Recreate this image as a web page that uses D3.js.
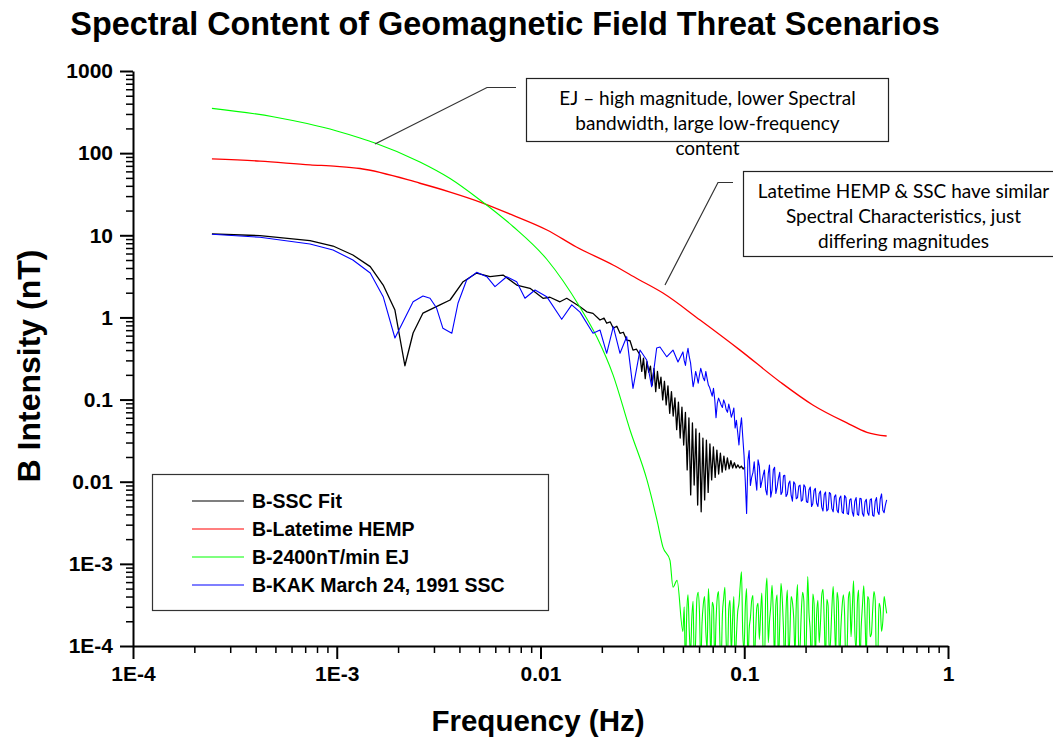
<!DOCTYPE html>
<html>
<head>
<meta charset="utf-8">
<script src="https://cdn.jsdelivr.net/npm/d3@7"></script>
<style>
  body { margin: 0; background: #ffffff; }
  svg { display: block; }
</style>
</head>
<body>
<svg id="chart" width="1053" height="740"></svg>
<script>
// ---------- axis ticks ----------
const xTickValues = [1e-4, 1e-3, 1e-2, 1e-1, 1];
const xTickLabels = ["1E-4", "1E-3", "0.01", "0.1", "1"];
const yTickValues = [1e-4, 1e-3, 1e-2, 1e-1, 1, 10, 100, 1000];
const yTickLabels = ["1E-4", "1E-3", "0.01", "0.1", "1", "10", "100", "1000"];

// ---------- series ----------
const seriesNames = ["B-SSC Fit", "B-Latetime HEMP", "B-2400nT/min EJ", "B-KAK March 24, 1991 SSC"];
const seriesColors = ["#000000", "#ff0000", "#00ff00", "#0000ff"];

// late-time HEMP spectrum (Hz, nT)
const hempFreq = [2.44e-4, 4.2e-4, 7.4e-4, 1.0e-3, 1.3e-3, 2.56e-3, 3.6e-3, 5.05e-3, 7.3e-3, 0.01076,
                  0.015, 0.0227, 0.030, 0.0399, 0.0607, 0.0953, 0.150, 0.217, 0.319, 0.40, 0.50];
const hempB = [85, 80, 72, 69, 65, 43, 33.6, 25.4, 17.6, 11.6,
               7.2, 4.35, 2.94, 1.98, 0.93, 0.40, 0.164, 0.086, 0.052, 0.040, 0.036];

// electrojet spectrum, smooth roll-off part
const ejFreqLow = [2.44e-4, 4.87e-4, 7.15e-4, 1.0e-3, 1.3e-3, 1.54e-3, 2.56e-3, 3.6e-3, 5.05e-3, 7.33e-3,
                   0.01076, 0.0156, 0.0189, 0.0227, 0.0275, 0.0333, 0.0373, 0.0399, 0.0432, 0.0447, 0.0468];
const ejBLow = [351, 278, 229, 186, 153, 133, 78, 49.1, 26.9, 12.8,
                5.07, 1.34, 0.578, 0.2, 0.0426, 0.0105, 0.0034, 0.0016, 0.0011, 5.2e-4, 6.3e-4];

// high-frequency sample grid (0.05 - 0.5 Hz) and the in-between samples
const hfFreq = [0.05000, 0.05146, 0.05296, 0.05451, 0.05610, 0.05774, 0.05942, 0.06116, 0.06295, 0.06478,
                0.06668, 0.06862, 0.07063, 0.07269, 0.07481, 0.07700, 0.07924, 0.08156, 0.08394, 0.08639,
                0.08891, 0.09151, 0.09418, 0.09693, 0.09976, 0.1027, 0.1057, 0.1088, 0.1119, 0.1152,
                0.1186, 0.1220, 0.1256, 0.1293, 0.1330, 0.1369, 0.1409, 0.1450, 0.1493, 0.1536,
                0.1581, 0.1628, 0.1675, 0.1724, 0.1774, 0.1826, 0.1879, 0.1934, 0.1991, 0.2049,
                0.2109, 0.2170, 0.2233, 0.2299, 0.2366, 0.2435, 0.2506, 0.2579, 0.2654, 0.2732,
                0.2812, 0.2894, 0.2978, 0.3065, 0.3155, 0.3247, 0.3342, 0.3439, 0.3540, 0.3643,
                0.3749, 0.3859, 0.3972, 0.4088, 0.4207, 0.4330, 0.4456, 0.4586, 0.4720, 0.4858, 0.5000];
const hfFreqMid = [0.05072, 0.05221, 0.05373, 0.05530, 0.05691, 0.05858, 0.06028, 0.06205, 0.06386, 0.06572,
                   0.06765, 0.06961, 0.07165, 0.07374, 0.07589, 0.07812, 0.08039, 0.08274, 0.08516, 0.08764,
                   0.09020, 0.09284, 0.09554, 0.09833, 0.1012, 0.1042, 0.1072, 0.1104, 0.1135, 0.1169,
                   0.1203, 0.1238, 0.1274, 0.1312, 0.1349, 0.1389, 0.1429, 0.1471, 0.1515, 0.1558,
                   0.1604, 0.1652, 0.1699, 0.1749, 0.1800, 0.1852, 0.1906, 0.1962, 0.2020, 0.2079,
                   0.2140, 0.2201, 0.2265, 0.2332, 0.2400, 0.2470, 0.2542, 0.2616, 0.2692, 0.2772,
                   0.2853, 0.2936, 0.3021, 0.3109, 0.3201, 0.3294, 0.3390, 0.3489, 0.3591, 0.3696,
                   0.3803, 0.3915, 0.4030, 0.4147, 0.4268, 0.4393, 0.4521, 0.4652, 0.4788, 0.4928];

// electrojet noise floor
const ejBHigh = [1.5e-4, 5e-5, 4.2e-4, 8e-5, 3.5e-4, 1.2e-4, 4.5e-4, 6e-5, 3.2e-4, 1.5e-4,
                 5.0e-4, 7e-5, 3.0e-4, 2.0e-4, 4.6e-4, 6e-5, 3.8e-4, 1.1e-4, 2.8e-4, 8e-5,
                 4.0e-4, 1.3e-4, 3.3e-4, 8.0e-4, 9e-5, 5.0e-4, 1.6e-4, 3.6e-4, 6e-5, 2.9e-4,
                 1.2e-4, 4.4e-4, 5e-5, 6.7e-4, 2.0e-4, 5.5e-4, 7e-5, 4.2e-4, 1.8e-4, 3.8e-4,
                 6e-5, 4.8e-4, 1.4e-4, 3.4e-4, 8e-5, 5.6e-4, 1.0e-4, 4.5e-4, 5e-5, 7.0e-4,
                 1.5e-4, 4.3e-4, 7e-5, 3.6e-4, 1.9e-4, 4.9e-4, 6e-5, 3.1e-4, 1.2e-4, 5.3e-4,
                 8e-5, 3.5e-4, 1.6e-4, 4.2e-4, 5e-5, 3.9e-4, 1.3e-4, 6.2e-4, 9e-5, 4.8e-4,
                 1.7e-4, 5.4e-4, 7e-5, 3.7e-4, 1.4e-4, 4.6e-4, 6e-5, 3.3e-4, 1.5e-4, 4.0e-4, 2.5e-4];
const ejBMid = [3.0e-4, 2.5e-4, 1.5e-4, 2.2e-4, 5e-5, 3.8e-4, 2.6e-4, 1.9e-4, 4.0e-4, 9e-5,
                2.3e-4, 3.4e-4, 6e-5, 3.9e-4, 1.2e-4, 2.4e-4, 5.2e-4, 7e-5, 3.6e-4, 2.1e-4,
                6e-5, 2.6e-4, 5.5e-4, 1.4e-4, 3.0e-4, 6e-5, 2.2e-4, 4.1e-4, 1.3e-4, 3.3e-4,
                2.5e-4, 8e-5, 4.0e-4, 1.1e-4, 3.0e-4, 2.4e-4, 3.2e-4, 6e-5, 5.8e-4, 1.6e-4,
                2.7e-4, 7e-5, 4.0e-4, 2.2e-4, 3.1e-4, 8e-5, 2.6e-4, 3.5e-4, 1.4e-4, 2.5e-4,
                5e-5, 3.3e-4, 2.4e-4, 1.1e-4, 4.1e-4, 2.0e-4, 3.7e-4, 8e-5, 2.9e-4, 2.1e-4,
                4.5e-4, 6e-5, 3.0e-4, 2.4e-4, 1.0e-4, 4.6e-4, 2.8e-4, 1.5e-4, 3.4e-4, 6e-5,
                3.1e-4, 2.2e-4, 4.0e-4, 1.3e-4, 2.7e-4, 3.6e-4, 7e-5, 2.9e-4, 2.0e-4, 3.2e-4];

// SSC fit spectrum
const sscFreq = [2.44e-4, 4.20e-4, 7.39e-4, 9.59e-4, 1.20e-3, 1.46e-3, 1.69e-3, 1.93e-3, 2.16e-3, 2.37e-3,
                 2.65e-3, 3.21e-3, 3.60e-3, 4.17e-3, 4.86e-3, 5.65e-3, 6.55e-3, 7.64e-3, 8.88e-3, 0.01029,
                 0.01113, 0.01246, 0.01345, 0.01563, 0.01686, 0.01810, 0.01959, 0.0205, 0.02113, 0.0220,
                 0.02277, 0.0237, 0.02456, 0.0255, 0.02649, 0.0275, 0.02844, 0.0296,
                 0.03078, 0.03140, 0.03202, 0.03266, 0.03331, 0.03398, 0.03465, 0.03534, 0.03605, 0.03677,
                 0.03750, 0.03825, 0.03901, 0.03979, 0.04058, 0.04139, 0.04222, 0.04306, 0.04392, 0.04480,
                 0.04569, 0.04660, 0.04753, 0.04848, 0.04945, 0.05044, 0.05144, 0.05247, 0.05351, 0.05458,
                 0.05567, 0.05678, 0.05791, 0.05907, 0.06025, 0.06146, 0.06267, 0.06392, 0.06520, 0.06650,
                 0.06783, 0.06919, 0.07056, 0.07197, 0.07340, 0.07487, 0.07636, 0.07789, 0.07944, 0.08103,
                 0.08264, 0.08429, 0.08597, 0.08769, 0.08944, 0.09123, 0.09304, 0.09490, 0.09679, 0.09873, 0.1007];
const sscB = [10.4, 9.9, 8.6, 7.4, 5.75, 4.15, 2.48, 1.23, 0.258, 0.646,
              1.13, 1.42, 1.63, 2.72, 3.47, 3.13, 3.28, 2.48, 2.26, 1.71,
              1.76, 1.55, 1.71, 1.35, 1.17, 1.12, 0.93, 0.98, 0.85, 0.88,
              0.74, 0.78, 0.64, 0.66, 0.53, 0.52, 0.40, 0.41,
              0.349, 0.22, 0.32, 0.18, 0.29, 0.215, 0.255, 0.150, 0.24, 0.125,
              0.22, 0.137, 0.188, 0.099, 0.167, 0.086, 0.147, 0.068, 0.125, 0.063,
              0.105, 0.043, 0.093, 0.034, 0.081, 0.028, 0.070, 0.0139, 0.060, 0.0069,
              0.052, 0.0091, 0.044, 0.0052, 0.039, 0.0043, 0.034, 0.0060, 0.032, 0.0074,
              0.0288, 0.0105, 0.0265, 0.0113, 0.0243, 0.0124, 0.0223, 0.0131, 0.0205, 0.0139,
              0.0195, 0.0143, 0.0180, 0.0147, 0.0170, 0.0147, 0.0160, 0.0147, 0.0155, 0.0143, 0.0151];

// KAK 24 March 1991 SSC spectrum, low-frequency part
const kakFreqLow = [2.44e-4, 4.20e-4, 7.39e-4, 9.59e-4, 1.20e-3, 1.46e-3, 1.69e-3, 1.93e-3, 2.37e-3, 2.65e-3,
                    2.87e-3, 3.09e-3, 3.32e-3, 3.67e-3, 3.94e-3, 4.34e-3, 4.86e-3, 5.45e-3, 5.98e-3, 6.82e-3,
                    7.64e-3, 8.39e-3, 9.40e-3, 0.01073, 0.01271, 0.01423, 0.01563, 0.01810, 0.01959, 0.02113,
                    0.02277, 0.02456, 0.02649, 0.02844, 0.03078, 0.03320, 0.03513, 0.03717, 0.03859, 0.04163,
                    0.04470, 0.04729];
const kakBLow = [10.3, 9.45, 7.83, 6.62, 5.0, 3.47, 1.79, 0.562, 1.55, 1.82,
                 1.71, 1.30, 0.737, 0.641, 1.50, 2.86, 3.54, 3.13, 2.37, 3.13,
                 2.72, 1.71, 2.16, 1.79, 0.949, 1.42, 1.16, 0.641, 0.703, 0.366,
                 0.771, 0.366, 0.583, 0.137, 0.401, 0.303, 0.143, 0.424, 0.436, 0.332,
                 0.401, 0.287];
// KAK spectrum, high-frequency part
const kakBHigh = [0.38, 0.26, 0.42, 0.28, 0.143, 0.22, 0.158, 0.24, 0.183, 0.22,
                  0.150, 0.124, 0.137, 0.060, 0.104, 0.086, 0.099, 0.075, 0.088, 0.061,
                  0.079, 0.056, 0.028, 0.060, 0.021, 0.0041, 0.024, 0.0114, 0.0175, 0.0079,
                  0.0155, 0.0100, 0.0139, 0.0069, 0.0160, 0.0079, 0.0150, 0.0086, 0.0130, 0.0075,
                  0.0120, 0.0071, 0.0102, 0.0058, 0.0094, 0.0064, 0.0091, 0.0060, 0.0086, 0.0056,
                  0.0086, 0.0054, 0.0083, 0.0050, 0.0077, 0.0044, 0.0075, 0.0046, 0.0071, 0.0043,
                  0.0069, 0.0042, 0.0067, 0.0041, 0.0064, 0.0040, 0.0062, 0.0038, 0.0064, 0.0039,
                  0.0062, 0.0038, 0.0061, 0.0039, 0.0062, 0.0038, 0.0064, 0.0040, 0.0071, 0.0042, 0.0060];
const kakBMid = [0.30, 0.35, 0.33, 0.20, 0.17, 0.19, 0.20, 0.21, 0.17, 0.18,
                 0.14, 0.11, 0.10, 0.09, 0.095, 0.08, 0.09, 0.07, 0.075, 0.068,
                 0.045, 0.040, 0.045, 0.035, 0.010, 0.018, 0.0090, 0.0130, 0.0110, 0.0185,
                 0.0085, 0.0120, 0.0080, 0.0125, 0.0065, 0.0140, 0.0072, 0.0110, 0.0070, 0.0118,
                 0.0066, 0.0095, 0.0068, 0.0100, 0.0062, 0.0088, 0.0058, 0.0092, 0.0057, 0.0080,
                 0.0050, 0.0078, 0.0055, 0.0072, 0.0049, 0.0070, 0.0044, 0.0074, 0.0047, 0.0066,
                 0.0045, 0.0063, 0.0043, 0.0068, 0.0041, 0.0060, 0.0043, 0.0058, 0.0040, 0.0063,
                 0.0041, 0.0057, 0.0042, 0.0060, 0.0039, 0.0058, 0.0043, 0.0062, 0.0045, 0.0052];

// ---------- assemble series ----------
const zip = (fs, bs) => fs.map((f, i) => ({ f: f, b: bs[i] }));
const byFreq = arr => arr.sort((a, b) => a.f - b.f);
const series = [
  { name: seriesNames[0], color: seriesColors[0], width: 1.3, curve: d3.curveLinear, pts: zip(sscFreq, sscB) },
  { name: seriesNames[1], color: seriesColors[1], width: 1.3, curve: d3.curveMonotoneX, pts: zip(hempFreq, hempB) },
  { name: seriesNames[2], color: seriesColors[2], width: 1.1, curve: d3.curveMonotoneX,
    pts: zip(ejFreqLow, ejBLow).concat(byFreq(zip(hfFreq, ejBHigh).concat(zip(hfFreqMid, ejBMid)))) },
  { name: seriesNames[3], color: seriesColors[3], width: 1.1, curve: d3.curveLinear,
    pts: zip(kakFreqLow, kakBLow).concat(byFreq(zip(hfFreq, kakBHigh).concat(zip(hfFreqMid, kakBMid)))) }
];

// ---------- layout ----------
const svg = d3.select("#chart");
const plot = { left: 133, right: 948, top: 71, bottom: 646 };
const x = d3.scaleLog().domain([1e-4, 1]).range([plot.left, plot.right]);
const y = d3.scaleLog().domain([1e-4, 1000]).range([plot.bottom, plot.top]);
const fontBold = "'Liberation Sans', Arial, Helvetica, sans-serif";

svg.append("rect").attr("width", 1053).attr("height", 740).attr("fill", "#ffffff");

svg.append("defs").append("clipPath").attr("id", "plotClip")
  .append("rect")
  .attr("x", plot.left).attr("y", plot.top)
  .attr("width", plot.right - plot.left).attr("height", plot.bottom - plot.top);

// ---------- curves ----------
const curvesG = svg.append("g").attr("clip-path", "url(#plotClip)");
series.forEach(s => {
  const line = d3.line().x(d => x(d.f)).y(d => y(d.b)).curve(s.curve);
  curvesG.append("path")
    .datum(s.pts)
    .attr("d", line)
    .attr("fill", "none")
    .attr("stroke", s.color)
    .attr("stroke-width", s.width)
    .attr("stroke-linejoin", "round");
});

// ---------- axes ----------
const isDecade = v => Math.abs(Math.log10(v) - Math.round(Math.log10(v))) < 1e-9;
const xMinor = x.ticks().filter(v => !isDecade(v));
const yMinor = y.ticks().filter(v => !isDecade(v));

function styleAxis(g, majorWidth) {
  g.select(".domain").attr("stroke", "#000").attr("stroke-width", 2);
  g.selectAll(".tick line").attr("stroke", "#000").attr("stroke-width", majorWidth);
  g.selectAll(".tick text")
    .attr("fill", "#000")
    .style("font-family", fontBold)
    .style("font-weight", "bold")
    .style("font-size", "21px");
}

const xMinorG = svg.append("g").attr("transform", `translate(0,${plot.bottom})`)
  .call(d3.axisBottom(x).tickValues(xMinor).tickSize(7).tickSizeOuter(0).tickFormat(""));
xMinorG.select(".domain").remove();
xMinorG.selectAll(".tick line").attr("stroke", "#000").attr("stroke-width", 1.5);

const yMinorG = svg.append("g").attr("transform", `translate(${plot.left},0)`)
  .call(d3.axisLeft(y).tickValues(yMinor).tickSize(7).tickSizeOuter(0).tickFormat(""));
yMinorG.select(".domain").remove();
yMinorG.selectAll(".tick line").attr("stroke", "#000").attr("stroke-width", 1.5);

const xAxisG = svg.append("g").attr("transform", `translate(0,${plot.bottom})`)
  .call(d3.axisBottom(x).tickValues(xTickValues).tickSize(13).tickSizeOuter(0).tickPadding(7)
    .tickFormat((d, i) => xTickLabels[i]));
styleAxis(xAxisG, 2);

const yAxisG = svg.append("g").attr("transform", `translate(${plot.left},0)`)
  .call(d3.axisLeft(y).tickValues(yTickValues).tickSize(13).tickSizeOuter(0).tickPadding(7)
    .tickFormat((d, i) => yTickLabels[i]));
styleAxis(yAxisG, 2);

// ---------- titles ----------
svg.append("text")
  .attr("x", 505).attr("y", 35)
  .attr("text-anchor", "middle")
  .style("font-family", fontBold).style("font-weight", "bold").style("font-size", "32.4px")
  .text("Spectral Content of Geomagnetic Field Threat Scenarios");

svg.append("text")
  .attr("transform", "translate(40,366) rotate(-90)")
  .attr("text-anchor", "middle")
  .style("font-family", fontBold).style("font-weight", "bold").style("font-size", "32px")
  .text("B Intensity (nT)");

svg.append("text")
  .attr("x", 538).attr("y", 731)
  .attr("text-anchor", "middle")
  .style("font-family", fontBold).style("font-weight", "bold").style("font-size", "29.5px")
  .text("Frequency (Hz)");

// ---------- legend ----------
const legend = svg.append("g");
legend.append("rect")
  .attr("x", 152.5).attr("y", 474.5).attr("width", 396).attr("height", 136)
  .attr("fill", "#ffffff").attr("stroke", "#333").attr("stroke-width", 1.2);
series.forEach((s, i) => {
  const cy = 501 + i * 28;
  legend.append("line")
    .attr("x1", 192).attr("x2", 244).attr("y1", cy).attr("y2", cy)
    .attr("stroke", s.color).attr("stroke-width", 1.2);
  legend.append("text")
    .attr("x", 252).attr("y", cy + 7)
    .style("font-family", fontBold).style("font-weight", "bold").style("font-size", "19.5px")
    .text(s.name);
});

// ---------- annotations ----------
const noteFont = "Lato, 'Open Sans', sans-serif";
function note(box, lines, leader) {
  const g = svg.append("g");
  g.append("polyline")
    .attr("points", leader.map(p => p.join(",")).join(" "))
    .attr("fill", "none").attr("stroke", "#333").attr("stroke-width", 1.2);
  g.append("rect")
    .attr("x", box.x).attr("y", box.y).attr("width", box.w).attr("height", box.h)
    .attr("fill", "#ffffff").attr("stroke", "#222").attr("stroke-width", 1.2);
  lines.forEach((t, i) => {
    g.append("text")
      .attr("x", box.x + box.w / 2).attr("y", box.y + 26 + i * 25)
      .attr("text-anchor", "middle")
      .style("font-family", noteFont).style("font-size", "19px").attr("fill", "#000")
      .text(t);
  });
}

note({ x: 526.5, y: 78.5, w: 362, h: 63 },
     ["EJ \u2013 high magnitude, lower Spectral", "bandwidth, large low-frequency", "content"],
     [[516, 87.5], [487, 87.5], [375, 144]]);

note({ x: 743.5, y: 171.5, w: 320, h: 85 },
     ["Latetime HEMP & SSC have similar", "Spectral Characteristics, just", "differing magnitudes"],
     [[733, 182.5], [718, 182.5], [665, 285]]);
</script>
</body>
</html>
